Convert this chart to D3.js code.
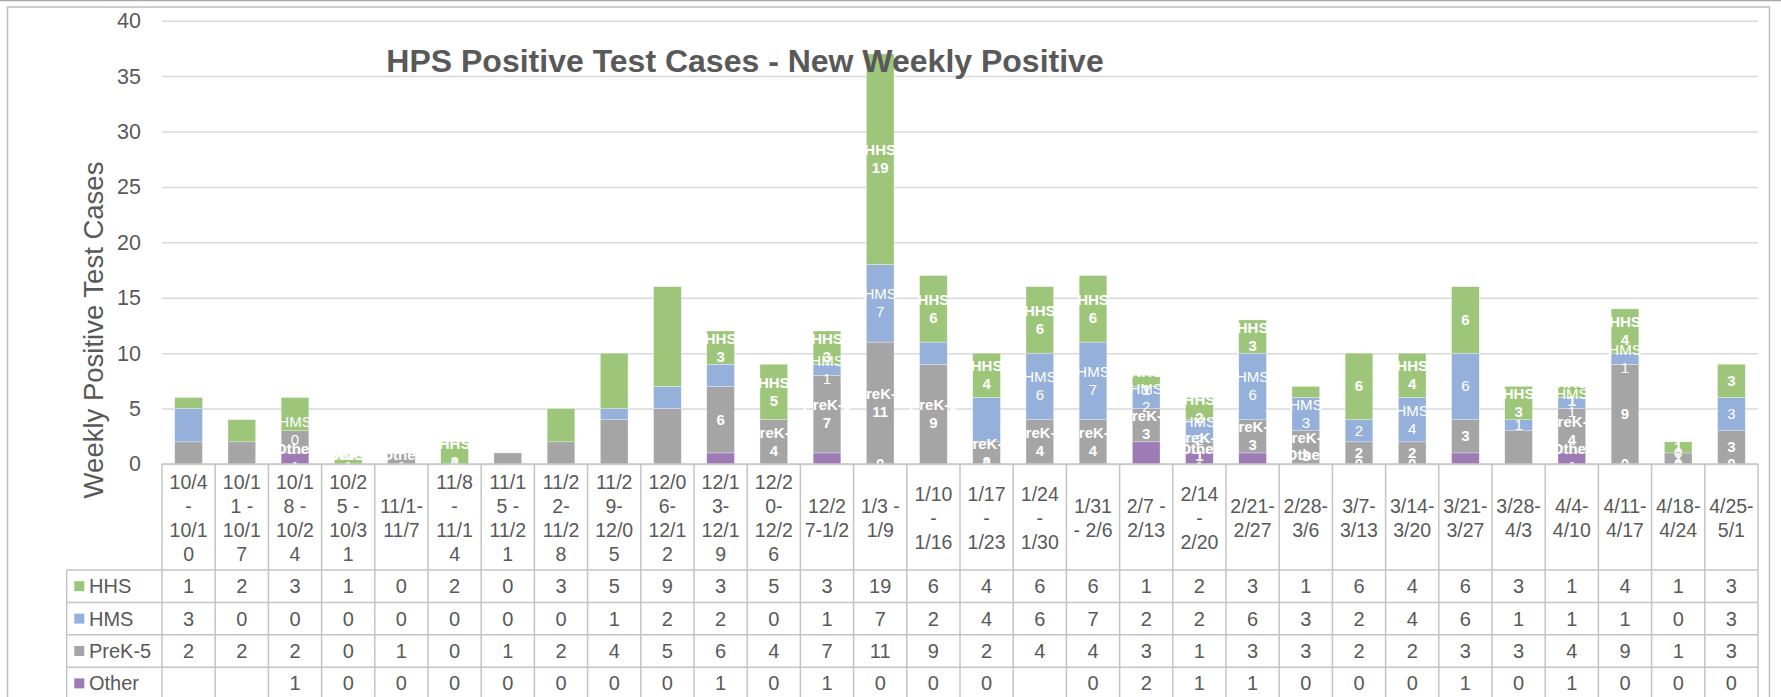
<!DOCTYPE html>
<html>
<head>
<meta charset="utf-8">
<script src="https://cdn.jsdelivr.net/npm/d3@7"></script>
<style>
  body { margin: 0; background: #fff; }
  svg { display: block; font-family: "Liberation Sans", Arial, sans-serif; }
</style>
</head>
<body>
<div id="chart"></div>
<script>
// week labels, broken into lines the way the data table wraps them
const weeks = [
  "10/4\n-\n10/1\n0", "10/1\n1 -\n10/1\n7", "10/1\n8 -\n10/2\n4", "10/2\n5 -\n10/3\n1",
  "11/1-\n11/7", "11/8\n-\n11/1\n4", "11/1\n5 -\n11/2\n1", "11/2\n2-\n11/2\n8",
  "11/2\n9-\n12/0\n5", "12/0\n6-\n12/1\n2", "12/1\n3-\n12/1\n9", "12/2\n0-\n12/2\n6",
  "12/2\n7-1/2", "1/3 -\n1/9", "1/10\n-\n1/16", "1/17\n-\n1/23", "1/24\n-\n1/30",
  "1/31\n- 2/6", "2/7 -\n2/13", "2/14\n-\n2/20", "2/21-\n2/27", "2/28-\n3/6",
  "3/7-\n3/13", "3/14-\n3/20", "3/21-\n3/27", "3/28-\n4/3", "4/4-\n4/10",
  "4/11-\n4/17", "4/18-\n4/24", "4/25-\n5/1"
];

const hhs   = [1,2,3,1,0,2,0,3,5,9,3,5,3,19,6,4,6,6,1,2,3,1,6,4,6,3,1,4,1,3];
const hms   = [3,0,0,0,0,0,0,0,1,2,2,0,1,7,2,4,6,7,2,2,6,3,2,4,6,1,1,1,0,3];
const prek  = [2,2,2,0,1,0,1,2,4,5,6,4,7,11,9,2,4,4,3,1,3,3,2,2,3,3,4,9,1,3];
const other = [null,null,1,0,0,0,0,0,0,0,1,0,1,0,0,0,null,0,2,1,1,0,0,0,1,0,1,0,0,0];

// which data labels are shown: 0 none, 1 value, 2 series name + value
const hhsLabels   = [0,0,0,2,0,2,0,0,0,0,2,2,2,2,2,2,2,2,2,2,2,0,1,2,1,2,2,2,1,1];
const hmsLabels   = [0,0,2,2,0,0,0,0,0,0,0,0,2,2,0,0,2,2,2,2,2,2,1,2,1,1,2,2,1,1];
const prekLabels  = [0,0,0,2,2,0,0,0,0,0,1,2,2,2,2,2,2,2,2,2,2,2,1,1,1,0,2,1,1,1];
const otherLabels = [0,0,2,2,2,1,0,0,0,0,0,0,0,1,0,1,0,0,0,2,0,2,1,1,0,0,2,1,1,1];

const yTicks = [0,5,10,15,20,25,30,35,40];

const series = [
  { key: "other", name: "Other",  values: other, labels: otherLabels, color: "#9e7bb5", bold: true },
  { key: "prek",  name: "PreK-5", values: prek,  labels: prekLabels,  color: "#a5a5a5", bold: true },
  { key: "hms",   name: "HMS",    values: hms,   labels: hmsLabels,   color: "#95b0da", bold: false },
  { key: "hhs",   name: "HHS",    values: hhs,   labels: hhsLabels,   color: "#9dc67b", bold: true }
];
const tableRows = [series[3], series[2], series[1], series[0]];

const width = 1781, height = 697;
const plotLeft = 162, plotRight = 1758, plotTop = 20.7, plotBottom = 464;
const textColor = "#595959", lineColor = "#c4c4c4";

const svg = d3.select("#chart")
  .append("svg")
  .attr("width", width)
  .attr("height", height);

const x = d3.scaleBand()
  .domain(d3.range(weeks.length))
  .range([plotLeft, plotRight])
  .paddingInner(0.48)
  .paddingOuter(0.24);

const y = d3.scaleLinear()
  .domain([0, 40])
  .range([plotBottom, plotTop]);

// outer frame
svg.append("line")
  .attr("x1", 0).attr("x2", width).attr("y1", 0.5).attr("y2", 0.5)
  .attr("stroke", "#a6a6a6").attr("stroke-width", 1.5);
svg.append("rect")
  .attr("x", 7.5).attr("y", 7).attr("width", 1762).attr("height", 720)
  .attr("fill", "none").attr("stroke", "#bdbdbd").attr("stroke-width", 1.5);

// gridlines + y tick labels
const yAxis = svg.append("g")
  .attr("transform", `translate(${plotLeft},0)`)
  .call(d3.axisLeft(y).tickValues(yTicks).tickSize(-(plotRight - plotLeft)).tickPadding(21));
yAxis.select(".domain").remove();
yAxis.selectAll(".tick line").attr("stroke", "#d9d9d9").attr("stroke-width", 1.5);
yAxis.selectAll(".tick text")
  .attr("fill", textColor)
  .style("font-size", "21.5px")
  .style("font-family", "'Liberation Sans', Arial, sans-serif");

// stacked bars
const rows = weeks.map((w, i) => {
  const r = { i: i };
  series.forEach(s => r[s.key] = s.values[i] || 0);
  return r;
});
const stacked = d3.stack().keys(series.map(s => s.key))(rows);

const layers = svg.append("g").selectAll("g")
  .data(stacked)
  .join("g")
  .attr("fill", (d, k) => series[k].color);

layers.selectAll("rect")
  .data(d => d)
  .join("rect")
  .attr("x", d => x(d.data.i))
  .attr("width", x.bandwidth())
  .attr("y", d => y(d[1]))
  .attr("height", d => y(d[0]) - y(d[1]))
  .attr("stroke", "#ffffff")
  .attr("stroke-width", 0.5)
  .attr("stroke-opacity", 0.6);

// data labels (white, centred on each segment)
const labelData = [];
stacked.forEach((layer, k) => {
  const s = series[k];
  layer.forEach((d, i) => {
    const mode = s.labels[i];
    if (!mode) return;
    labelData.push({ s: s, i: i, mode: mode, mid: (d[0] + d[1]) / 2, value: s.values[i] || 0 });
  });
});

const labels = svg.append("g").selectAll("text")
  .data(labelData)
  .join("text")
  .attr("x", d => x(d.i) + x.bandwidth() / 2)
  .attr("y", d => y(d.mid) + 5)
  .attr("text-anchor", "middle")
  .attr("fill", "#ffffff")
  .style("font-size", "15px")
  .style("font-weight", d => d.s.bold ? "bold" : "normal");

labels.each(function(d) {
  const t = d3.select(this);
  if (d.mode === 2) {
    t.append("tspan").attr("x", x(d.i) + x.bandwidth() / 2).attr("dy", -9).text(d.s.name);
    t.append("tspan").attr("x", x(d.i) + x.bandwidth() / 2).attr("dy", 18).text(d.value);
  } else {
    t.text(d.value);
  }
});

// chart title
svg.append("text")
  .attr("x", 745)
  .attr("y", 72)
  .attr("text-anchor", "middle")
  .attr("fill", textColor)
  .style("font-size", "32px")
  .style("font-weight", "bold")
  .text("HPS Positive Test Cases - New Weekly Positive");

// y axis title
svg.append("text")
  .attr("transform", "translate(103,330) rotate(-90)")
  .attr("text-anchor", "middle")
  .attr("fill", textColor)
  .style("font-size", "27.5px")
  .text("Weekly Positive Test Cases");

// ================ data table ==================
const table = svg.append("g");
const step = x.step();
const rowTop = 570, rowH = 32.4, legendLeft = 66.7;

// header cell grid
table.append("line")
  .attr("x1", plotLeft).attr("x2", plotRight).attr("y1", plotBottom).attr("y2", plotBottom)
  .attr("stroke", lineColor).attr("stroke-width", 1.5);
table.selectAll(".vline")
  .data(d3.range(weeks.length + 1))
  .join("line")
  .attr("x1", i => plotLeft + i * step).attr("x2", i => plotLeft + i * step)
  .attr("y1", plotBottom).attr("y2", height)
  .attr("stroke", lineColor).attr("stroke-width", 1.5);
table.selectAll(".hline")
  .data(d3.range(tableRows.length + 1))
  .join("line")
  .attr("x1", legendLeft).attr("x2", plotRight)
  .attr("y1", r => rowTop + r * rowH).attr("y2", r => rowTop + r * rowH)
  .attr("stroke", lineColor).attr("stroke-width", 1.5);
table.append("line")
  .attr("x1", legendLeft).attr("x2", legendLeft).attr("y1", rowTop).attr("y2", height)
  .attr("stroke", lineColor).attr("stroke-width", 1.5);

// week headers
const headerMid = 517.5, lineGap = 24;
table.selectAll(".week")
  .data(weeks)
  .join("text")
  .attr("text-anchor", "middle")
  .attr("fill", textColor)
  .style("font-size", "19.5px")
  .each(function(w, i) {
    const lines = w.split("\n");
    const cx = x(i) + x.bandwidth() / 2;
    d3.select(this).selectAll("tspan")
      .data(lines)
      .join("tspan")
      .attr("x", cx)
      .attr("y", (l, j) => headerMid + (j - (lines.length - 1) / 2) * lineGap + 7)
      .text(l => l);
  });

// legend keys + values
tableRows.forEach((s, r) => {
  const cy = rowTop + r * rowH + rowH / 2;
  table.append("rect")
    .attr("x", 74.3).attr("y", cy - 5).attr("width", 10).attr("height", 10)
    .attr("fill", s.color);
  table.append("text")
    .attr("x", 89).attr("y", cy + 7)
    .attr("fill", textColor)
    .style("font-size", "20px")
    .text(s.name);
  table.append("g").selectAll("text")
    .data(s.values)
    .join("text")
    .attr("x", (v, i) => x(i) + x.bandwidth() / 2)
    .attr("y", cy + 7)
    .attr("text-anchor", "middle")
    .attr("fill", textColor)
    .style("font-size", "20px")
    .text(v => v === null ? "" : v);
});
</script>
</body>
</html>
